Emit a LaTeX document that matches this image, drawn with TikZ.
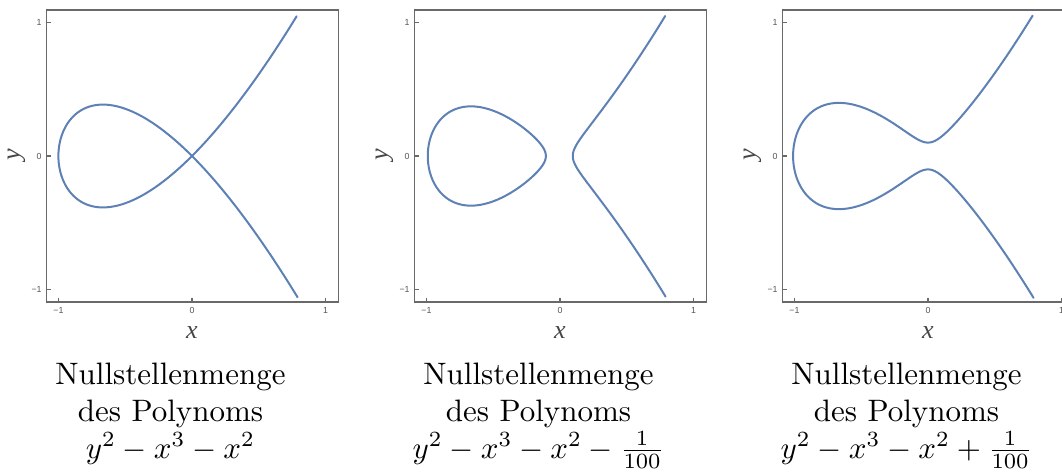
\documentclass[tikz,border=0pt]{standalone}
\usepackage{fontspec}
\newfontfamily\tickfont{Liberation Sans}
\newfontfamily\labfont{Liberation Serif}
\definecolor{curveblue}{RGB}{94,129,181}
\definecolor{framegray}{RGB}{105,105,105}
\definecolor{ticktext}{RGB}{85,85,85}
\definecolor{axisgray}{RGB}{70,70,70}
\newcommand{\capline}[1]{\scalebox{1.55}{\fontsize{10}{12}\selectfont #1}}
\begin{document}
\begin{tikzpicture}[x=0.5pt,y=-0.5pt,
  frame/.style={draw=framegray, line width=0.65pt},
  curve/.style={draw=curveblue, line width=1pt, line join=round, line cap=round},
  ticklab/.style={font=\tickfont\fontsize{4.4}{5}\selectfont, text=ticktext, inner sep=0pt},
  axlab/.style={font=\labfont\itshape\fontsize{13}{15}\selectfont, text=axisgray, inner sep=0pt},
  captext/.style={inner sep=0pt, anchor=base}]
\useasboundingbox (0,0) rectangle (1062,473);

% frames, ticks, labels, captions
\foreach \i/\ox/\formula in {1/192/{y^2-x^3-x^2},2/560/{y^2-x^3-x^2-\frac{1}{100}},3/928/{y^2-x^3-x^2+\frac{1}{100}}}{
  \draw[frame] (\ox-145.5,10) rectangle (\ox+146.5,302);
  \foreach \v/\s in {-1/{−1},0/0,1/1}{
    \draw[frame] (\ox+133.6*\v,302) -- ++(0,-4);
    \node[ticklab] (xt\i\v) at (\ox+133.6*\v,310) {\s};
    \draw[frame] (\ox-145.5,156-133.6*\v) -- ++(4,0);
    \node[ticklab, anchor=east] (yt\i\v) at (\ox-150,156-133.6*\v) {\s};
  }
  \node[axlab] (xlab\i) at (\ox,333) {x};
  \node[axlab, rotate=90] (ylab\i) at (\ox-175.5,155) {y};
  \node[captext] (capa\i) at (\ox-21.5,384) {\capline{Nullstellenmenge}};
  \node[captext] (capb\i) at (\ox-21.5,421) {\capline{des Polynoms}};
  \node[captext] (capc\i) at (\ox-21.5,458) {\capline{$\formula$}};
}

% panel 1: y^2 = x^3 + x^2
\begin{scope}[shift={(192,156)}, x=66.8pt, y=66.8pt]
  \draw[curve] plot[smooth, domain=-1.338:1.338, samples=241, variable=\t]
    ({\t*\t-1},{\t*(\t*\t-1)});
\end{scope}

% panel 2: y^2 = x^3 + x^2 - 1/100
\begin{scope}[shift={(560,156)}, x=66.8pt, y=66.8pt]
  \draw[curve] plot[smooth, domain=0:360, samples=181, variable=\t]
    ({-0.98979+0.44202*(1-cos(\t))},{0.44202*sin(\t)*sqrt(0.09554-(-0.98979+0.44202*(1-cos(\t))))});
  \draw[curve] plot[smooth, domain=-0.8334:0.8334, samples=161, variable=\u]
    ({0.09554+\u*\u},{\u*sqrt((0.09554+\u*\u+0.98979)*(0.09554+\u*\u+0.10575))});
\end{scope}

% panel 3: y^2 = x^3 + x^2 + 1/100
\begin{scope}[shift={(928,156)}, x=66.8pt, y=66.8pt]
  \draw[curve] plot[smooth, domain=-1.3416:1.3416, samples=241, variable=\u]
    ({-1.00981+\u*\u},{\u*sqrt((-1.00981+\u*\u)*(-1.00981+\u*\u)-0.00981*(-1.00981+\u*\u)+0.009906)});
\end{scope}
\end{tikzpicture}
\end{document}
